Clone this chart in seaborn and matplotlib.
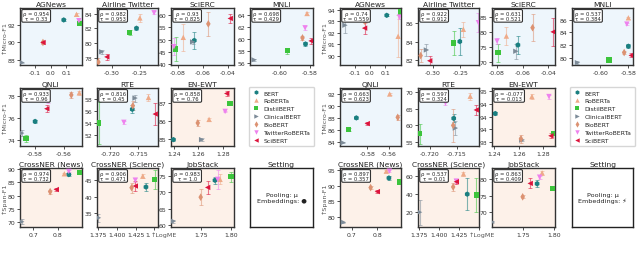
import numpy as np
import pandas as pd
import matplotlib
matplotlib.use("Agg")
import matplotlib.pyplot as plt
import seaborn as sns
from matplotlib.lines import Line2D
from matplotlib.ticker import FormatStrFormatter

models = ["BERT", "RoBERTa", "DistilBERT", "ClinicalBERT", "BioBERT", "TwitterRoBERTa", "SciBERT"]

# ---- left half (Pooling: mu, Embeddings: dot) ----
agnews_a_x = [0.083, 0.165, 0.184, -0.186, -0.05, 0.18, -0.05]
agnews_a_y = [92.64, 93.3, 92.2, 87.66, 90.0, 92.55, 90.0]
agnews_a_e = [0.1, 0.15, 0.1, 0.1, 0.1, 0.1, 0.15]
airline_a_x = [-0.256, -0.25, -0.268, -0.318, -0.324, -0.2247, -0.309]
airline_a_y = [82.0, 83.4, 81.4, 78.8, 77.4, 84.1, 78.1]
airline_a_e = [0.2, 0.6, 0.3, 0.3, 0.6, 0.2, 0.4]
scierc_a_x = [-0.0667, -0.0755, -0.0816, -0.068, -0.0555, -0.083, -0.038]
scierc_a_y = [49.6, 50.9, 46.1, 49.0, 56.5, 47.0, 58.75]
scierc_a_e = [3.5, 5.5, 5.0, 1.0, 5.0, 3.5, 2.0]
mnli_a_x = [-0.583, -0.582, -0.595, -0.6173, -0.585, -0.5833, -0.5793]
mnli_a_y = [59.2, 64.2, 58.1, 56.6, 60.2, 61.85, 59.7]
mnli_a_e = [0.4, 0.2, 0.5, 0.2, 0.3, 0.3, 0.5]
qnli_a_x = [-0.58, -0.549, -0.5864, -0.5894, -0.5546, -0.5711, -0.5718]
qnli_a_y = [75.7, 78.3, 74.15, 74.64, 78.1, 77.6, 76.85]
qnli_a_e = [0.1, 0.2, 0.35, 0.3, 0.3, 0.2, 0.3]
rte_a_x = [-0.7161, -0.7132, -0.7221, -0.7156, -0.716, -0.7176, -0.712]
rte_a_y = [56.3, 58.3, 54.0, 58.2, 56.9, 54.1, 55.5]
rte_a_e = [0.7, 0.6, 3.5, 0.6, 0.8, 0.3, 1.8]
enewt_a_x = [1.2395, 1.2688, 1.286, 1.2627, 1.2595, 1.282, 1.2833]
enewt_a_y = [84.96, 86.1, 87.0, 84.96, 85.9, 86.55, 87.56]
enewt_a_e = [0.05, 0.1, 0.05, 0.1, 0.15, 0.05, 0.15]
cnews_a_x = [0.844, 0.826, 0.888, 0.652, 0.768, 0.844, 0.793]
cnews_a_y = [88.0, 88.3, 88.7, 70.0, 81.5, 89.2, 82.3]
cnews_a_e = [0.4, 0.4, 0.5, 1.0, 0.8, 0.4, 0.5]
csci_a_x = [1.4388, 1.4345, 1.4505, 1.375, 1.4195, 1.4245, 1.4245]
csci_a_y = [43.0, 46.3, 45.3, 33.6, 42.8, 45.1, 43.3]
csci_a_e = [1.2, 0.6, 3.0, 1.2, 1.5, 0.6, 1.5]
job_a_x = [1.7736, 1.782, 1.80, 1.705, 1.75, 1.778, 1.7615]
job_a_y = [73.7, 74.0, 74.8, 61.1, 68.5, 74.0, 71.5]
job_a_e = [1.0, 1.5, 1.5, 0.5, 2.5, 3.0, 2.0]

# ---- right half (Pooling: mu, Embeddings: bolt) ----
agnews_b_x = [0.111, 0.186, 0.2, -0.1645, -0.035, 0.195, -0.035]
agnews_b_y = [93.5, 91.7, 93.8, 92.65, 93.0, 93.35, 92.4]
agnews_b_e = [0.1, 1.8, 0.1, 0.7, 0.2, 0.2, 0.5]
airline_b_x = [-0.251, -0.2445, -0.262, -0.312, -0.3226, -0.217, -0.306]
airline_b_y = [84.0, 85.3, 83.85, 83.1, 82.5, 86.0, 81.95]
airline_b_e = [1.4, 0.8, 1.3, 0.6, 0.7, 1.0, 0.5]
scierc_b_x = [-0.0637, -0.0727, -0.0792, -0.0653, -0.0523, -0.08, -0.0363]
scierc_b_y = [75.7, 78.7, 73.1, 73.6, 81.5, 77.0, 80.1]
scierc_b_e = [3.0, 3.0, 3.0, 2.5, 4.5, 1.0, 4.7]
mnli_b_x = [-0.58, -0.58, -0.5938, -0.6163, -0.583, -0.5811, -0.578]
mnli_b_y = [81.8, 86.3, 79.6, 79.2, 80.8, 85.3, 80.35]
mnli_b_e = [0.3, 0.2, 0.3, 0.2, 0.3, 0.2, 0.3]
qnli_b_x = [-0.59, -0.5594, -0.5971, -0.6023, -0.552, -0.5794, -0.58]
qnli_b_y = [88.0, 92.0, 86.05, 83.85, 88.1, 91.3, 87.05]
qnli_b_e = [0.2, 0.2, 0.3, 0.1, 0.4, 0.2, 0.2]
rte_b_x = [-0.7156, -0.7126, -0.7218, -0.7153, -0.7157, -0.7171, -0.7115]
rte_b_y = [62.1, 68.7, 57.5, 59.2, 60.0, 66.7, 64.6]
rte_b_e = [1.2, 1.0, 3.0, 2.0, 5.0, 0.5, 1.5]
enewt_b_x = [1.2407, 1.2708, 1.289, 1.2625, 1.2618, 1.2848, 1.2864]
enewt_b_y = [94.125, 94.79, 93.33, 93.08, 93.13, 94.79, 93.25]
enewt_b_e = [0.05, 0.1, 0.05, 0.05, 0.15, 0.08, 0.1]
cnews_b_x = [0.845, 0.835, 0.888, 0.668, 0.774, 0.847, 0.8]
cnews_b_y = [92.5, 94.7, 91.2, 78.2, 89.4, 94.7, 88.1]
cnews_b_e = [0.6, 0.4, 0.3, 0.2, 0.6, 0.3, 0.4]
csci_b_x = [1.4357, 1.431, 1.447, 1.3758, 1.418, 1.422, 1.422]
csci_b_y = [40.0, 62.5, 39.0, 20.0, 48.0, 54.5, 53.8]
csci_b_e = [18.0, 2.0, 19.0, 14.0, 4.0, 2.0, 3.0]
job_b_x = [1.773, 1.781, 1.7978, 1.7016, 1.75, 1.777, 1.762]
job_b_y = [78.7, 82.0, 77.3, 67.0, 74.7, 80.7, 78.8]
job_b_e = [1.0, 0.5, 0.3, 0.3, 0.5, 0.5, 1.5]

rho_a = ["0.954", "0.982", "0.93", "0.698", "0.933", "0.816", "0.858", "0.974", "0.906", "0.983"]
tau_a = ["0.33", "0.953", "0.825", "0.429", "0.96", "0.45", "0.76", "0.732", "0.471", "1.0"]
rho_b = ["0.74", "0.922", "0.631", "0.537", "0.663", "0.597", "-0.077", "0.897", "0.537", "0.863"]
tau_b = ["0.559", "0.912", "0.521", "0.384", "0.623", "0.324", "0.013", "0.357", "0.01", "0.409"]
titles = ["AGNews", "Airline Twitter", "SciERC", "MNLI", "QNLI", "RTE", "EN-EWT",
          "CrossNER (News)", "CrossNER (Science)", "JobStack"]

palette = {"BERT": "#1a7f80", "RoBERTa": "#eeaa88", "DistilBERT": "#3cc43c",
           "ClinicalBERT": "#7d8b98", "BioBERT": "#dc9272", "TwitterRoBERTa": "#ee82ee",
           "SciBERT": "#dc143c"}
markers = {"BERT": "h", "RoBERTa": "^", "DistilBERT": "s", "ClinicalBERT": ">",
           "BioBERT": "d", "TwitterRoBERTa": "v", "SciBERT": "<"}

sns.set_theme(style="white")
plt.rcParams["font.family"] = ["DejaVu Sans"]

W, H = 640, 255
fig = plt.figure(figsize=(6.4, 2.55), dpi=100)

def add_ax(x0, x1, y0, y1):
    return fig.add_axes([x0 / W, 1 - y1 / H, (x1 - x0) / W, (y1 - y0) / H])

BLUE = "#eef6fc"
PEACH = "#fdf1e9"
TFS = 5.4

def style_box(ax):
    for s in ax.spines.values():
        s.set_color("#333333")
        s.set_linewidth(1.0)

def draw(ax, title, x, y, e, rho, tau, xlim, ylim, xt, yt, bg, ylabel=None):
    df = pd.DataFrame({"LogME": x, "F1": y, "model": models})
    for xi, yi, ei, m in zip(x, y, e, models):
        ax.errorbar(xi, yi, yerr=ei, color=palette[m], alpha=0.55, capsize=1.4,
                    lw=0.8, capthick=0.7, zorder=2)
    sns.scatterplot(data=df, x="LogME", y="F1", hue="model", style="model",
                    palette=palette, markers=markers, s=15, linewidth=0,
                    ax=ax, legend=False, zorder=3)
    ax.set_facecolor(bg)
    ax.set_xlim(*xlim)
    ax.set_ylim(*ylim)
    ax.set_xticks(xt)
    ax.set_yticks(yt)
    ax.yaxis.set_major_formatter(FormatStrFormatter("%.0f"))
    ax.set_xlabel("")
    ax.set_ylabel(ylabel if ylabel else "", fontsize=4.6, color="#555555", labelpad=1)
    ax.set_title(title, fontsize=TFS, pad=1.5, color="#222222")
    ax.tick_params(labelsize=4.4, length=2, width=0.6, pad=1.3, colors="#333333",
                   bottom=True, left=True)
    style_box(ax)
    ax.text(0.05, 0.95, "\u03c1 = " + rho + "\n\u03c4 = " + tau, transform=ax.transAxes,
            fontsize=3.8, va="top", ha="left", multialignment="center", linespacing=1.0,
            bbox=dict(boxstyle="round,pad=0.25", fc="white", ec="#333333", lw=0.8), zorder=6)

cols_a = [(20, 82), (97, 158), (171, 234), (250, 313)]
cols_b = [(340, 401), (418, 479), (492, 555), (572, 633)]
rows = [(9, 66), (89, 147), (169, 228)]

def xfmt(ax, fmt):
    ax.xaxis.set_major_formatter(FormatStrFormatter(fmt))

def build(cols, d, rho, tau, lim, emb):
    pos = [(0, 0), (0, 1), (0, 2), (0, 3), (1, 0), (1, 1), (1, 2), (2, 0), (2, 1), (2, 2)]
    for i, (r, c) in enumerate(pos):
        ax = add_ax(cols[c][0], cols[c][1], rows[r][0], rows[r][1])
        bg = PEACH if i >= 6 else BLUE
        yl = None
        if c == 0:
            yl = "\u2191Span-F1" if r == 2 else "\u2191Micro-F1"
        x, y, e = d[i]
        xl, yl2, xt, yt, xf = lim[i]
        draw(ax, titles[i], x, y, e, rho[i], tau[i], xl, yl2, xt, yt, bg, yl)
        xfmt(ax, xf)
    # legend
    lax = add_ax(cols[3][0], cols[3][1], rows[1][0] - 2, rows[1][1] + 1)
    lax.axis("off")
    handles = [Line2D([], [], ls="none", marker=markers[m], color=palette[m], ms=3.2, mew=0)
               for m in models]
    lax.legend(handles, models, loc="center", fontsize=4.4, frameon=True, handletextpad=0.8,
               labelspacing=0.42, borderpad=0.6, handlelength=1.0, edgecolor="#cccccc",
               fancybox=True, borderaxespad=0)
    # setting box
    sax = add_ax(cols[3][0], cols[3][1], rows[2][0], rows[2][1])
    sax.set_xticks([])
    sax.set_yticks([])
    sax.set_facecolor("white")
    for s in sax.spines.values():
        s.set_color("#222222")
        s.set_linewidth(1.0)
    sax.set_title("Setting", fontsize=TFS, pad=1.5, color="#222222")
    sax.text(0.5, 0.5, "Pooling: \u03bc\nEmbeddings: " + emb, transform=sax.transAxes,
             ha="center", va="center", fontsize=4.6, linespacing=1.1, color="#222222")

d_a = [(agnews_a_x, agnews_a_y, agnews_a_e), (airline_a_x, airline_a_y, airline_a_e),
       (scierc_a_x, scierc_a_y, scierc_a_e), (mnli_a_x, mnli_a_y, mnli_a_e),
       (qnli_a_x, qnli_a_y, qnli_a_e), (rte_a_x, rte_a_y, rte_a_e),
       (enewt_a_x, enewt_a_y, enewt_a_e), (cnews_a_x, cnews_a_y, cnews_a_e),
       (csci_a_x, csci_a_y, csci_a_e), (job_a_x, job_a_y, job_a_e)]
d_b = [(agnews_b_x, agnews_b_y, agnews_b_e), (airline_b_x, airline_b_y, airline_b_e),
       (scierc_b_x, scierc_b_y, scierc_b_e), (mnli_b_x, mnli_b_y, mnli_b_e),
       (qnli_b_x, qnli_b_y, qnli_b_e), (rte_b_x, rte_b_y, rte_b_e),
       (enewt_b_x, enewt_b_y, enewt_b_e), (cnews_b_x, cnews_b_y, cnews_b_e),
       (csci_b_x, csci_b_y, csci_b_e), (job_b_x, job_b_y, job_b_e)]

lim_a = [
    ((-0.197, 0.2), (87.36, 94.04), [-0.1, 0.0, 0.1], [88, 90, 92], "%.1f"),
    ((-0.3265, -0.2176), (77.0, 84.75), [-0.30, -0.25], [78, 80, 82, 84], "%.2f"),
    ((-0.0853, -0.035), (39.4, 63.1), [-0.08, -0.06, -0.04], [40, 45, 50, 55, 60], "%.2f"),
    ((-0.62, -0.578), (55.75, 65.1), [-0.60, -0.58], [56, 58, 60, 62, 64], "%.2f"),
    ((-0.5906, -0.5471), (73.47, 78.73), [-0.58, -0.56], [74, 76, 78], "%.2f"),
    ((-0.7224, -0.7115), (50.1, 59.9), [-0.720, -0.715], [52, 54, 56, 58], "%.3f"),
    ((1.2375, 1.2893), (84.6, 87.87), [1.24, 1.26, 1.28], [85, 86, 87], "%.2f"),
    ((0.645, 0.898), (68.0, 90.5), [0.7, 0.8], [70, 75, 80, 85, 90], "%.1f"),
    ((1.373, 1.455), (30.8, 48.8), [1.375, 1.4, 1.425, 1.45], [35, 40, 45], "%.3f"),
    ((1.701, 1.805), (59.3, 77.5), [1.75, 1.80], [60, 65, 70, 75], "%.2f"),
]
lim_b = [
    ((-0.197, 0.205), (89.23, 94.13), [-0.1, 0.0, 0.1], [90, 91, 92, 93, 94], "%.1f"),
    ((-0.3274, -0.2159), (81.5, 87.57), [-0.30, -0.25], [82, 84, 86], "%.2f"),
    ((-0.0839, -0.0348), (69.0, 88.1), [-0.08, -0.06, -0.04], [70, 75, 80, 85], "%.2f"),
    ((-0.6202, -0.5767), (78.83, 87.85), [-0.60, -0.58], [80, 82, 84, 86], "%.2f"),
    ((-0.605, -0.549), (83.3, 93.0), [-0.58, -0.56], [84, 86, 88, 90, 92], "%.2f"),
    ((-0.7221, -0.7110), (53.85, 71.15), [-0.720, -0.715], [55, 60, 65, 70], "%.3f"),
    ((1.238, 1.2898), (92.85, 95.125), [1.24, 1.26, 1.28], [93, 93.5, 94, 94.5, 95], "%.2f"),
    ((0.655, 0.892), (76.66, 95.73), [0.7, 0.8], [80, 85, 90, 95], "%.1f"),
    ((1.3738, 1.4505), (3.6, 69.0), [1.375, 1.4, 1.425, 1.45], [20, 40, 60], "%.3f"),
    ((1.701, 1.8016), (65.5, 83.5), [1.75, 1.80], [70, 75, 80], "%.2f"),
]

build(cols_a, d_a, rho_a, tau_a, lim_a, "\u25cf")
build(cols_b, d_b, rho_b, tau_b, lim_b, "\u26a1")

for xc in (164, 482):
    fig.text(xc / W, 1 - 235 / H, "\u2191LogME", fontsize=4.6, color="#555555", ha="center",
             va="center", bbox=dict(fc="white", ec="none", pad=0.4), zorder=10)

fig.savefig("out.png", dpi=100, facecolor="white")
